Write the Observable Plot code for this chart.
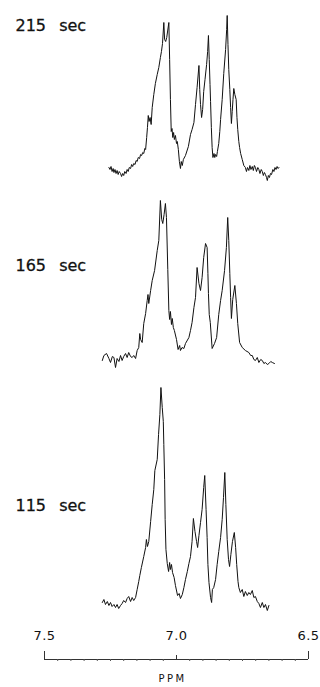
<!DOCTYPE html>
<html><head><meta charset="utf-8">
<script src="https://cdn.jsdelivr.net/npm/d3@7"></script>
<script src="https://cdn.jsdelivr.net/npm/@observablehq/plot@0.6"></script>
<style>
html,body{margin:0;padding:0;background:#fff;}
#chart svg{display:block;background:#fff;}
</style></head><body><div id="chart"></div>
<script>
// Spectra labels, bottom to top
const times = ["115 sec", "165 sec", "215 sec"];

// 115 sec spectrum
const ppm115 = [7.281,7.275,7.269,7.262,7.256,7.250,7.244,7.237,7.231,7.225,7.219,7.212,7.206,7.200,7.193,7.187,7.181,7.174,7.168,7.162,7.155,7.149,7.143,7.139,7.133,7.124,7.117,7.114,7.110,7.105,7.098,7.092,7.086,7.082,7.073,7.068,7.063,7.059,7.054,7.050,7.048,7.045,7.043,7.040,7.035,7.030,7.026,7.023,7.019,7.015,7.009,7.004,6.996,6.990,6.985,6.978,6.972,6.966,6.959,6.953,6.947,6.941,6.936,6.930,6.924,6.920,6.915,6.909,6.903,6.897,6.893,6.888,6.884,6.881,6.877,6.871,6.867,6.864,6.859,6.852,6.846,6.840,6.833,6.827,6.822,6.817,6.813,6.808,6.803,6.799,6.794,6.788,6.781,6.776,6.772,6.767,6.764,6.758,6.751,6.745,6.739,6.732,6.726,6.720,6.713,6.707,6.701,6.694,6.688,6.682,6.675,6.669,6.663,6.656,6.650];
const int115 = [57,60,55,58,54,57,53,55,52,55,51,54,56,59,57,61,63,58,62,59,62,70,78,84,92,103,112,120,113,118,138,155,170,189,200,225,245,272,252,238,215,180,140,110,96,88,97,90,95,87,82,74,64,66,61,65,72,80,88,96,103,118,141,128,118,112,124,137,150,172,184,150,122,95,77,62,57,70,72,80,95,108,122,140,162,187,155,120,100,93,105,118,127,112,95,78,72,67,70,63,68,64,67,65,69,62,63,58,56,52,57,52,55,49,54];

// 165 sec spectrum
const ppm165 = [7.281,7.275,7.265,7.256,7.250,7.243,7.237,7.231,7.225,7.218,7.212,7.206,7.200,7.193,7.187,7.181,7.174,7.168,7.162,7.155,7.149,7.143,7.139,7.136,7.130,7.124,7.117,7.111,7.108,7.105,7.098,7.092,7.083,7.073,7.067,7.061,7.056,7.052,7.047,7.042,7.038,7.033,7.029,7.026,7.023,7.019,7.016,7.012,7.008,7.000,6.994,6.988,6.985,6.979,6.972,6.966,6.953,6.947,6.941,6.934,6.928,6.922,6.915,6.909,6.903,6.897,6.890,6.884,6.881,6.879,6.876,6.872,6.865,6.856,6.848,6.840,6.833,6.827,6.818,6.811,6.806,6.802,6.798,6.795,6.792,6.787,6.779,6.773,6.768,6.761,6.751,6.739,6.726,6.719,6.713,6.707,6.701,6.694,6.688,6.681,6.675,6.669,6.663,6.656,6.650,6.643,6.637,6.629];
const int165 = [59,64,66,61,57,63,62,52,61,58,64,59,63,66,62,67,63,62,64,61,69,72,86,80,77,96,106,119,125,116,129,139,149,169,179,219,200,196,205,216,202,150,109,100,108,95,101,92,89,80,70,74,69,72,71,76,82,89,97,112,122,152,136,129,142,162,176,172,146,126,105,97,71,76,82,105,119,129,149,172,202,179,146,122,101,120,134,116,96,77,72,69,67,64,64,60,59,62,57,60,59,56,57,55,56,58,57,56];

// 215 sec spectrum
const ppm215 = [7.256,7.252,7.248,7.244,7.240,7.237,7.233,7.229,7.225,7.221,7.217,7.212,7.208,7.204,7.200,7.196,7.191,7.187,7.183,7.179,7.174,7.170,7.166,7.162,7.157,7.153,7.149,7.145,7.140,7.136,7.132,7.128,7.124,7.120,7.117,7.113,7.110,7.107,7.104,7.100,7.096,7.092,7.086,7.080,7.073,7.067,7.061,7.057,7.053,7.048,7.045,7.041,7.037,7.029,7.026,7.023,7.020,7.017,7.014,7.011,7.008,7.004,7.000,6.997,6.993,6.989,6.985,6.982,6.978,6.974,6.966,6.955,6.947,6.941,6.934,6.928,6.922,6.915,6.912,6.909,6.905,6.901,6.897,6.892,6.886,6.882,6.879,6.876,6.873,6.871,6.868,6.865,6.862,6.858,6.855,6.852,6.848,6.845,6.840,6.836,6.833,6.827,6.821,6.814,6.810,6.808,6.805,6.802,6.798,6.795,6.792,6.789,6.786,6.783,6.779,6.774,6.771,6.768,6.764,6.761,6.757,6.751,6.745,6.739,6.735,6.731,6.726,6.722,6.718,6.713,6.709,6.705,6.701,6.697,6.692,6.688,6.684,6.679,6.675,6.671,6.667,6.663,6.659,6.656,6.652,6.648,6.644,6.640,6.635,6.631,6.627,6.623,6.619,6.615,6.612];
const int215 = [12,10,13,8,11,7,10,6,9,5,8,6,3,6,4,8,6,10,8,12,11,15,13,16,15,19,18,22,21,25,24,27,26,31,30,42,52,64,58,62,55,72,85,96,105,112,122,128,136,157,140,138,142,157,120,80,48,51,42,47,40,44,36,38,30,18,11,18,14,20,24,33,45,50,57,75,92,114,90,75,62,70,88,100,115,128,144,120,95,78,52,32,22,26,22,25,23,28,36,48,60,80,106,130,150,164,135,110,90,72,56,68,80,91,85,80,62,50,38,32,26,20,14,12,8,12,9,14,10,13,9,14,12,8,12,10,6,10,8,4,7,5,2,-1,4,2,6,5,10,8,12,10,13,11,12];

// Axis
const majorTicks = [7.5, 7.0, 6.5];
const minorTicks = [7.45,7.40,7.35,7.30,7.25,7.20,7.15,7.10,7.05,6.95,6.90,6.85,6.80,6.75,6.70,6.65,6.60,6.55];
const axisTitle = "PPM";

// Layout constants
const STEP = 240; // vertical spacing between stacked spectra (px units)

const series = [[ppm115, int115], [ppm165, int165], [ppm215, int215]];
const rows = [];
series.forEach(([p, v], k) => p.forEach((x, i) => rows.push({time: times[k], k, ppm: x, v: v[i]})));

const chart = Plot.plot({
  width: 320,
  height: 687,
  marginLeft: 44,
  marginRight: 12,
  marginTop: 0,
  marginBottom: 28,
  style: {fontFamily: "DejaVu Sans", background: "#fff", color: "#111"},
  x: {domain: [7.5, 6.5], axis: null},
  y: {domain: [0, 720], range: [659, -61], axis: null},
  marks: [
    Plot.line(rows, {x: "ppm", y: d => d.k * STEP + d.v, z: "time", stroke: "#111", strokeWidth: 1}),
    Plot.text(times, {x: 7.5, y: (d, i) => i * STEP + 154, text: d => d, textAnchor: "start", dx: -29, fontSize: 16, fill: "#111"}),
    Plot.ruleY([0], {stroke: "#333", strokeWidth: 1}),
    Plot.ruleX(majorTicks, {x: d => d, y1: 0, y2: d => d === 7.0 ? 4 : 8, stroke: "#333"}),
    Plot.ruleX(minorTicks, {x: d => d, y1: 0, y2: -2, stroke: "#555"}),
    Plot.text(majorTicks, {x: d => d, y: 24, text: d => d.toFixed(1), fontSize: 13, fill: "#111"}),
    Plot.text([axisTitle], {x: 7.0, y: -19, dx: -4, text: d => d, fontSize: 10, fill: "#111"})
  ]
});
document.getElementById("chart").appendChild(chart);
const groups = chart.querySelectorAll('g[aria-label="text"]');
if (groups[0]) { groups[0].style.wordSpacing = "8px"; groups[0].style.stroke = "#111"; groups[0].style.strokeWidth = "0.3px"; }
if (groups[1]) { groups[1].style.letterSpacing = "0.5px"; }
if (groups[2]) { groups[2].style.letterSpacing = "2.5px"; }
</script></body></html>
